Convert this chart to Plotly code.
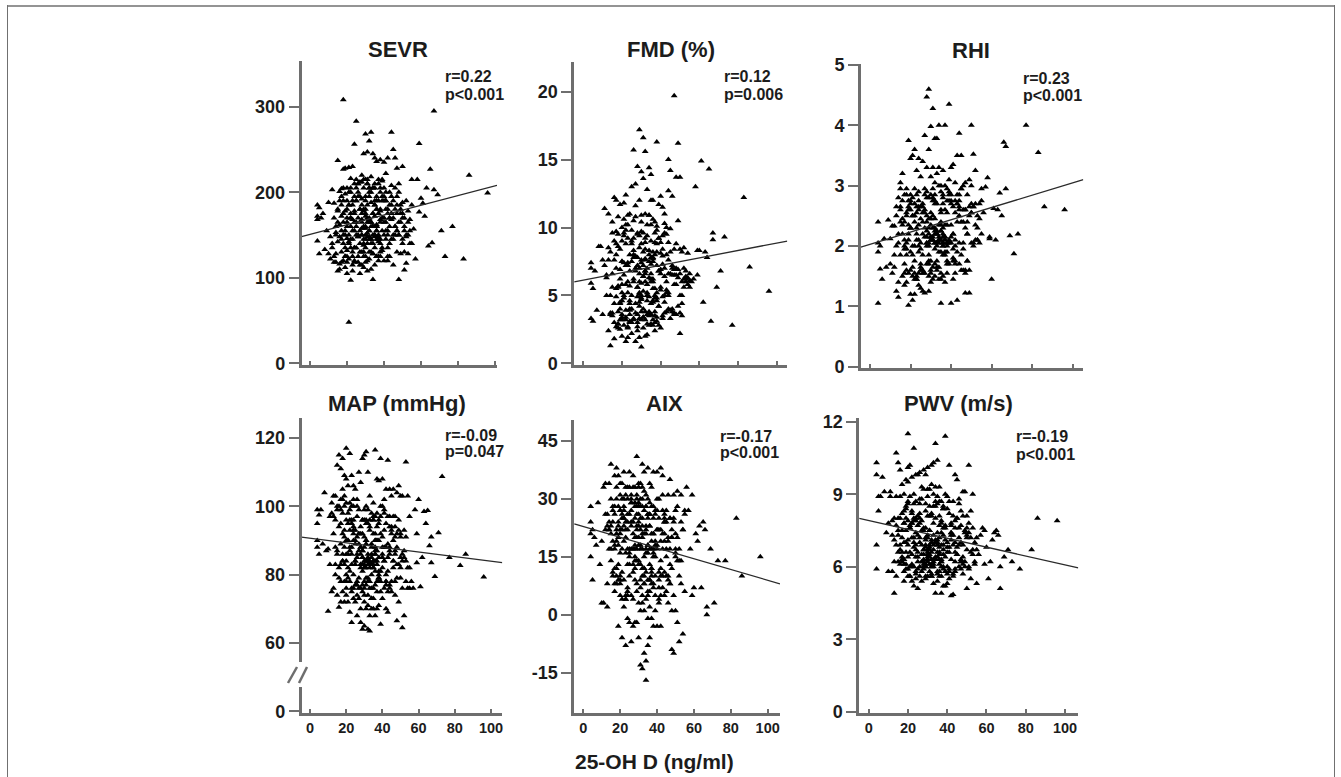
import plotly.graph_objects as go

W, H = 1341, 777

vitd = [
 4,4,4,4,5,5,6,7,8,9,10,10,
 11,11,12,12,13,13,13,14,14,14,15,15,15,15,16,16,16,16,
 17,17,17,17,18,18,18,18,18,19,19,19,19,19,20,20,20,20,20,20,
 21,21,21,21,21,22,22,22,22,22,23,23,23,23,23,24,24,24,24,24,
 25,25,25,25,25,26,26,26,26,26,27,27,27,27,27,28,28,28,28,28,
 29,29,29,29,29,29,30,30,30,30,30,30,31,31,31,31,31,31,32,32,
 32,32,32,32,33,33,33,33,33,33,34,34,34,34,34,34,35,35,35,35,
 35,35,36,36,36,36,36,37,37,37,37,37,38,38,38,38,38,39,39,39,
 39,39,40,40,40,40,41,41,41,41,42,42,42,42,43,43,43,43,44,44,
 44,44,45,45,45,46,46,46,47,47,47,48,48,48,49,49,49,50,50,50,
 51,51,51,52,52,52,53,53,54,54,55,55,
 56,57,58,59,59,60,61,62,63,64,65,66,67,67,69,71,73,77,83,86,96,
 19,20,21,22,23,24,25,26,27,28,29,30,31,32,33,34,35,36,37,38,
 28,29,30,31,32,33,34,35,36,37,28,29,30,31,32,33,34,35,36,37,
 18,20,22,24,26,28,30,32,34,36,38,40,42,44,46,24,28,32,36,40,
 15,17,19,21,23,25,27,29,31,33,35,37,39,41,43,45,47,22,30,38,
 12,14,16,18,20,22,24,26,28,30,32,34,36,38,40,42,44,46,48,50,
 13,15,17,19,21,23,25,27,29,31,33,35,37,39,41,43,45,47,49,51,
 16,18,20,22,24,26,28,30,32,34,36,38,40,42,44,46,48,50,52,54,
 17,19,21,23,25,27,29,31,33,35,37,39,41,43,45,47,49,51,53,55,
 14,17,20,23,26,29,32,35,38,41,44,47,50,53,18,24,30,36,42,48,
]

sevr = [
 185,172,168,143,182,128,170,175,133,155,188,128,
 148,122,140,203,187,125,170,118,160,153,108,142,178,237,162,201,116,148,
 204,130,172,118,308,227,165,140,190,228,112,155,198,125,165,146,205,105,180,132,
 48,229,150,122,185,97,216,160,135,175,230,108,145,190,168,256,210,118,155,178,
 283,215,135,160,190,118,200,148,170,125,212,105,155,180,140,220,130,165,192,150,
 245,205,158,138,112,178,268,215,150,175,125,195,247,210,140,165,108,185,205,148,
 170,122,260,195,270,218,145,165,110,188,245,205,150,128,175,98,240,210,135,160,
 190,148,236,195,160,125,145,215,175,150,120,190,205,238,165,140,178,213,155,132,
 195,170,235,190,150,120,222,180,145,165,240,175,155,135,185,200,125,160,270,208,
 168,145,250,190,115,240,205,160,228,185,130,210,150,98,185,165,128,188,230,170,
 109,155,170,117,190,148,178,128,168,155,215,140,
 157,122,215,257,177,193,187,172,205,137,227,141,295,203,197,155,125,160,122,220,199,
 150,160,142,170,155,135,165,148,180,158,145,172,152,165,140,175,150,160,145,168,
 150,160,145,170,155,165,140,150,162,148,175,140,158,148,168,145,160,172,155,142,
 150,170,145,175,150,168,135,155,160,180,145,165,150,175,160,165,185,145,155,170,
 165,155,178,140,185,150,195,130,210,160,205,145,190,155,170,150,175,170,160,180,
 135,128,190,205,118,205,135,195,212,118,205,128,190,130,205,125,195,180,150,145,
 118,180,145,125,200,130,205,115,180,215,130,185,125,215,200,140,170,155,180,130,
 110,175,125,200,120,210,115,190,130,205,180,125,195,120,185,150,200,175,150,140,
 195,135,185,125,190,130,215,120,200,115,210,135,190,170,145,195,175,160,165,185,
 150,185,190,115,210,125,200,185,200,190,175,155,140,150,120,195,180,125,180,165,
]

fmd = [
 7.4,7.0,5.9,3.3,3.1,5.5,6.8,3.9,8.6,8.6,7.6,3.6,
 11.4,7.2,5.0,6.3,11.0,8.5,2.4,3.6,1.3,8.2,10.4,5.6,9.6,3.5,12.2,1.8,7.6,4.4,
 12.0,7.0,2.7,4.9,10.8,5.7,2.6,9.5,3.8,11.7,6.9,2.5,8.4,4.4,7.5,2.0,10.0,5.8,3.2,9.0,
 11.8,6.5,2.8,9.6,4.8,12.4,1.6,8.8,5.8,3.4,10.9,7.4,1.9,5.2,9.2,11.0,3.0,6.8,8.0,4.0,
 13.0,7.5,2.2,5.0,9.8,15.7,10.5,6.2,3.2,8.3,13.2,11.6,4.4,7.0,1.6,14.5,9.5,2.4,5.6,3.6,
 17.2,12.0,9.4,6.6,3.3,1.9,14.1,10.9,7.6,4.8,1.2,8.8,16.6,13.6,9.6,5.3,3.4,7.2,11.0,6.0,
 15.6,8.4,3.8,2.0,12.8,9.4,7.0,4.6,2.1,5.8,14.4,10.9,8.3,6.3,3.7,4.9,13.9,9.0,6.6,2.9,
 12.0,4.4,12.0,8.2,6.0,3.2,4.6,10.4,8.9,5.5,3.8,2.4,16.3,9.8,7.2,5.2,3.1,11.7,6.8,2.8,
 9.2,4.2,12.3,8.9,5.6,2.6,11.5,9.4,7.3,3.5,9.6,11.0,6.4,3.7,8.0,5.4,10.0,3.8,12.7,7.6,
 15.0,5.0,14.2,9.9,3.3,12.3,7.2,4.0,19.7,6.5,3.7,13.7,8.8,5.8,16.2,10.5,4.2,13.7,8.4,2.2,
 8.2,6.0,3.5,7.0,8.5,5.6,6.8,6.2,5.8,6.3,6.6,6.1,
 6.0,6.2,13.0,8.3,6.5,8.3,14.9,4.5,8.2,7.8,14.3,3.1,9.1,9.6,5.6,6.8,9.3,2.8,12.2,7.1,5.3,
 6.2,7.5,5.0,3.9,7.2,5.7,4.0,9.2,6.8,3.0,5.2,7.4,4.0,6.6,5.0,7.5,3.6,6.2,8.0,4.8,
 7.2,5.1,3.8,6.4,7.6,5.0,3.8,6.0,7.5,4.8,5.6,7.0,4.7,3.4,6.8,5.2,8.0,6.2,4.5,3.5,
 5.6,3.6,7.2,4.6,6.0,7.8,5.0,6.8,3.5,7.8,4.6,5.4,7.0,6.6,6.5,3.6,4.9,7.7,5.5,6.9,
 3.7,5.5,4.0,7.4,6.0,3.0,7.9,4.5,6.4,3.6,7.3,5.0,6.8,7.9,5.2,6.6,6.9,3.2,5.9,8.2,
 6.5,5.0,3.0,8.6,3.4,9.8,4.4,7.8,2.7,9.7,3.2,10.9,2.8,8.8,6.6,10.3,4.0,7.0,3.6,6.6,
 7.6,6.6,8.8,3.2,10.6,2.6,9.0,3.7,8.5,2.6,10.2,7.8,9.6,4.2,8.4,6.0,8.2,3.6,6.3,4.4,
 9.0,2.9,5.2,10.2,3.1,8.0,9.6,3.2,8.9,2.8,10.6,3.4,8.1,4.5,8.9,3.8,6.5,5.0,6.2,8.1,
 8.0,4.5,9.4,2.7,8.8,10.8,4.2,8.2,2.9,10.2,3.0,9.2,3.3,9.5,3.9,5.8,6.9,5.0,6.4,5.6,
 3.7,9.7,4.6,10.2,3.3,6.0,9.2,3.6,10.1,4.9,5.2,8.4,3.7,6.0,2.9,3.9,10.4,7.7,5.0,7.0,
]

rhi = [
 2.4,2.05,1.9,1.05,1.62,2.0,1.45,2.12,1.65,2.43,2.12,1.7,
 2.33,1.55,2.33,1.65,2.0,2.65,1.25,1.15,2.2,1.4,2.4,2.65,3.05,1.85,2.2,1.5,3.2,2.75,
 2.85,1.7,2.4,1.35,2.85,2.55,1.6,2.05,1.4,3.75,2.75,2.2,1.55,1.02,3.45,2.6,1.9,1.6,1.2,2.3,
 3.5,2.8,2.0,1.65,1.1,3.6,2.95,2.4,1.75,1.2,3.25,2.55,2.1,1.5,1.45,3.45,2.9,2.35,1.9,1.35,
 3.15,2.65,2.05,1.7,1.3,3.4,2.7,2.2,1.85,1.25,3.83,2.95,2.3,1.55,1.22,4.47,3.3,2.5,2.0,1.7,
 4.6,3.6,2.8,2.2,1.75,1.25,3.98,3.15,2.55,2.1,1.6,1.4,4.28,3.3,2.75,2.1,1.65,1.45,3.78,3.05,
 2.45,2.05,1.7,1.5,3.78,3.2,2.7,2.25,2.0,1.75,4.0,3.3,3.0,2.35,2.05,1.45,3.0,2.6,2.1,1.05,
 1.9,1.55,3.25,2.7,2.2,2.0,1.5,4.0,3.0,2.35,2.1,1.4,2.95,2.55,2.05,1.75,1.55,4.35,3.1,2.75,
 2.1,1.7,3.3,2.7,2.05,1.05,3.35,2.65,2.2,1.45,3.05,2.75,2.0,1.55,3.5,2.4,1.9,1.1,3.87,2.6,
 2.05,1.7,3.5,2.95,1.85,3.0,2.4,1.6,3.05,2.6,1.22,2.85,2.2,1.75,3.1,2.5,1.22,4.0,3.0,2.05,
 3.52,2.65,2.0,3.25,2.35,2.7,2.5,2.1,2.7,2.05,2.95,2.2,
 2.55,2.98,3.13,2.15,2.12,1.45,2.62,2.1,2.6,2.88,2.5,3.72,2.95,3.65,2.17,1.87,2.2,4.0,3.55,2.65,2.6,
 2.1,2.3,2.5,2.0,2.2,2.6,1.95,2.4,2.15,2.05,2.45,2.15,2.3,2.05,2.2,2.1,2.25,2.05,2.15,2.35,
 2.05,2.3,2.15,2.5,1.95,2.2,2.1,2.4,2.0,2.15,2.25,2.0,2.45,2.1,2.3,2.05,2.15,2.25,2.05,2.6,
 2.5,2.3,2.7,2.1,2.55,2.15,2.35,2.2,2.1,2.15,2.05,2.35,2.1,2.5,2.6,2.0,2.4,2.25,2.3,2.15,
 2.6,2.1,2.35,2.5,2.3,2.45,2.6,2.05,2.15,2.2,2.35,2.1,2.05,2.2,2.7,2.4,2.3,2.5,2.1,2.0,
 1.85,2.8,2.45,1.85,2.7,1.55,2.75,1.6,2.8,1.75,2.75,1.65,2.8,1.9,2.85,1.7,2.75,1.95,2.4,2.7,
 2.5,2.95,1.95,2.65,1.5,2.65,1.65,2.85,1.5,2.8,1.6,2.9,1.85,2.85,1.95,2.7,2.95,1.55,2.65,2.05,
 2.35,1.95,2.75,1.45,2.65,1.55,2.9,1.55,2.7,1.9,2.85,1.7,2.75,1.75,2.65,2.05,1.75,2.55,2.1,2.45,
 2.0,2.6,1.85,2.85,1.6,2.55,1.85,2.95,1.65,2.55,1.9,2.9,1.8,2.85,1.6,2.6,1.6,2.65,2.3,2.75,
 2.05,1.55,2.85,1.45,2.65,1.7,2.85,1.45,2.75,1.75,2.85,1.6,2.55,2.1,2.95,1.55,2.85,1.85,2.55,2.2,
]

map_mmhg = [
 99,95,90,88,97.5,86,99,89,104,87,87.5,69.3,
 97,83,75,101,76,103,92,80,96,103,74,112,87,99,115,79,70.5,94,
 111,89,102,72,114,105,84,75,98,109,93,78,72,100,117,101,108,86,74,96,
 106,95,82,72,90,115.5,101,88,69,78,109,96,83,75,66,106,92,80,73,100,
 105,90,77,84,72,102,97,86,74,68,99,89,79,73,110,107,94,83,70,66,
 114,92,81,75,64,87,115,99,88,78,72,65,116,100,90,84,77,70,110,95,
 85,78,71,64,103,93,84,78,68,63.5,98,89,83,80,73,70,101,92,84,76,
 70,82,116.5,97,87,77,68,108,94,83,75,70,107.5,95,85,79,71,114,92,65.5,
 81,75,108,91,86,73,102,93,84,76,105,95,80,70,113.5,89,81,69,105,94,
 88,77,103,92,75,105,90,82,97,86,74,66.5,104,83,106,96,72,103,91,82,
 103,76,64.5,93,85,68,113,91,82,103,76,97,
 78,76,99,92,83.5,102,76.5,85,98.5,95,98.8,88.5,91,83.5,79.5,92.3,108.7,85,82.7,86,79.3,
 88,84,90,81,86,94,83,91,87,82,85,83,89,84,82,88,83,86,90,81,
 83,85,82,90,84,83,86,82,88,84,88,83,84,82,86,83,85,84,81,87,
 84,90,87,93,85,88,82,84,83,86,90,85,88,86,84,90,86,83,84,82,
 86,83,91,86,95,89,92,87,95,94,96,90,97,88,85,93,87,93,91,96,
 98,88,82,102,78,99,76,100,76,96,79,73,92,78,88,78,87,97,88,79,
 97,100,78,103,79,100,84,92,77,96,76,96,78,100,84,97,78,91,83,86,
 100,92,76,96,102,78,92,74,99,76,90,79,100,77,97,84,79,92,87,76,
 95,83,98,76,93,76,96,79,96,73,98,78,98,75,94,78,93,84,84,82,
 83,99,80,88,77,96,74,97,80,99,76,94,85,78,86,96,76,90,78,92,
]

aix = [
 28,24,21,15,9,22,20,18,29,13,3,19,
 33,3,22,34,26,8,2,34,17,22,30,14,21,39,19,10,27,24,
 36,28,17,8,38,30,22,12,10,36,24,18,13,-3,34,27,21,8,16,5,
 34,25,17,11,-6,37,25,19,9,2,33,24,16,5,-8,30,22,13,7,-1,
 37,26,16,10,-2,31,23,17,5,-7,36,24,11,4,-3,33,25,20,9,-2,
 41,31,22,17,8,-2,34,28,20,13,3,-6,30,25,17,9,1,-13,39,28,
 20,12,3,-14,37,27,15,8,1,-10,31,22,11,-12,4,-17,38,26,18,5,
 -8,-1,34,23,13,2,-6,33,21,11,8,-1,37,25,16,7,-3,26,19,5,
 10,1,37,22,17,-3,30,25,9,3,38,22,12,-3,36,17,7,31,21,5,
 26,11,27,15,6,31,19,3,35,25,13,20,1,-9,31,25,-10,27,16,1,
 32,20,-2,-7,17,14,31,8,-5,22,27,26,
 33,27,17,31,5,7,21,19,23,7,24,22,0,2,17,3,14,14,25,10,15,
 23,27,22,25,20,26,17,29,21,15,28,18,22,30,12,17,25,23,17,21,
 28,20,29,13,25,12,21,26,17,10,18,30,23,28,17,10,23,18,9,12,
 21,22,27,17,24,29,26,21,28,26,17,22,19,24,20,24,17,23,26,18,
 23,18,20,26,22,15,17,23,18,21,16,19,18,22,27,24,25,23,28,8,
 26,22,11,33,9,28,6,30,14,24,10,16,6,15,27,5,24,10,22,15,
 23,17,26,9,30,4,33,13,26,7,32,9,28,15,4,10,17,8,24,14,
 28,19,10,30,5,29,12,33,5,28,9,21,30,14,25,9,12,17,10,22,
 12,28,4,31,13,33,6,34,8,30,12,27,7,21,10,17,5,28,24,6,
 24,6,31,4,27,14,33,6,28,11,19,8,21,14,8,33,14,29,10,20,
]

pwv = [
 10.3,9.8,6.9,5.9,8.9,8.3,8.9,9.7,9.1,7.4,7.8,5.8,
 9.1,8.9,7.3,5.8,7.1,4.9,6.2,8.9,10.7,5.6,8.0,10.3,7.5,6.6,10.0,8.0,6.1,6.9,
 9.4,8.2,7.2,6.2,9.0,8.3,7.0,6.3,5.4,9.6,8.0,7.5,6.6,5.9,11.5,10.1,9.5,7.9,6.9,5.9,
 10.2,8.9,7.6,6.6,5.6,9.7,8.2,7.2,6.1,5.4,10.9,9.0,8.0,6.8,5.2,9.8,8.7,7.4,6.4,5.7,
 9.8,8.1,7.3,6.6,5.1,9.9,8.2,7.0,6.0,5.6,9.3,7.9,6.9,6.2,5.4,10.0,9.2,7.5,6.5,5.9,
 9.8,8.6,7.6,6.8,6.0,5.5,10.1,8.9,7.3,6.6,6.2,5.6,9.2,8.5,7.5,6.9,6.1,5.8,10.2,9.4,
 8.1,7.0,6.3,5.6,10.3,9.0,7.8,6.7,6.0,5.3,11.1,9.3,8.0,7.1,6.4,4.9,10.4,8.9,7.4,6.6,
 5.8,5.4,9.3,8.1,7.2,6.3,5.6,8.7,7.9,6.9,6.2,4.9,8.4,7.6,6.7,5.9,5.2,11.4,9.0,7.7,
 6.4,5.2,8.9,7.0,6.0,5.3,10.2,8.2,6.8,5.8,7.8,7.1,6.3,4.8,8.1,6.9,5.6,4.85,9.8,7.9,
 6.6,5.8,9.6,8.0,6.5,8.8,7.2,6.0,8.3,7.0,6.3,9.1,8.1,5.7,9.1,7.5,6.0,8.1,6.7,5.1,
 10.2,7.8,5.9,8.3,7.2,5.5,9.0,6.5,7.0,6.1,7.2,5.3,
 6.5,7.3,7.6,6.1,7.5,6.8,5.5,6.2,7.1,7.4,7.5,7.3,6.0,5.1,6.4,6.7,6.2,5.9,6.7,8.0,7.9,
 7.0,6.4,7.6,6.0,7.2,6.7,6.2,7.8,6.5,6.0,7.1,6.4,6.8,6.0,7.3,6.3,6.9,6.1,7.4,6.5,
 6.1,6.9,6.3,7.5,6.6,6.1,7.0,6.4,6.8,6.2,6.7,6.1,7.2,6.5,6.0,6.9,6.3,7.1,6.6,6.0,
 7.8,7.1,6.5,7.9,7.2,6.3,6.7,6.1,7.0,6.5,7.3,6.6,7.4,7.0,6.9,6.9,6.7,7.1,6.3,6.8,
 7.3,6.6,6.1,7.7,7.0,6.4,7.5,6.0,6.7,6.2,7.0,6.3,7.1,6.6,7.3,6.8,6.2,7.8,6.5,6.9,
 7.9,6.9,8.9,5.8,8.7,7.8,5.5,8.6,7.6,9.2,5.7,8.5,5.8,8.4,5.7,7.7,6.2,8.6,6.9,7.6,
 8.0,6.2,7.5,8.5,5.6,7.9,5.9,8.8,5.6,8.1,6.3,8.6,5.6,7.6,5.9,8.7,6.5,7.7,6.2,7.4,
 6.7,7.8,5.6,8.3,5.8,8.8,6.2,8.1,5.6,8.7,7.7,6.0,8.4,7.4,5.9,7.6,6.1,7.2,6.6,6.2,
 6.3,8.4,6.0,8.6,7.7,5.8,8.3,6.4,8.5,6.9,7.8,5.8,8.7,5.7,8.0,6.2,7.4,6.0,7.6,6.7,
 7.7,6.4,8.6,6.0,8.0,7.2,8.2,5.7,8.5,5.5,7.6,5.9,7.3,6.7,6.1,8.0,6.3,8.7,7.3,6.4,
]

for s in (sevr, fmd, rhi, map_mmhg, aix, pwv):
    assert len(s) == len(vitd), (len(s), len(vitd))

x_ticks = [0, 20, 40, 60, 80, 100]
INK = "#1c1c1c"
AXIS = "#6e6e6e"
FONT = "Liberation Sans, Arial, sans-serif"

panels = [
    dict(title="SEVR", y=sevr, r="r=0.22", p="p<0.001", tv=[0,100,200,300], tt=["0","100","200","300"],
         box=(301.5,497,60.7,364.5), xa=(310,495), ya=(0,363.3,300,106.7), fit=(148,208),
         tpos=(398,50), spos=(443,77,94)),
    dict(title="FMD (%)", y=fmd, r="r=0.12", p="p=0.006", tv=[0,5,10,15,20], tt=["0","5","10","15","20"],
         box=(574.2,787.3,61.7,364.5), xa=(583.3,776.7), ya=(0,363.3,20,91.7), fit=(6,9),
         tpos=(671,50), spos=(722,77,94)),
    dict(title="RHI", y=rhi, r="r=0.23", p="p<0.001", tv=[0,1,2,3,4,5], tt=["0","1","2","3","4","5"],
         box=(860.8,1083.3,64,367.5), xa=(870,1072.7), ya=(0,366.7,5,65), fit=(1.98,3.1),
         tpos=(971,51), spos=(1021,78,95)),
    dict(title="MAP (mmHg)", y=map_mmhg, r="r=-0.09", p="p=0.047", tv=[40,60,80,100,120], tt=["0","60","80","100","120"],
         box=(301.5,502.3,418,712.5), xa=(310,491), ya=(60,643,120,438), fit=(91,83.5),
         tpos=(397,403), spos=(443,435,451)),
    dict(title="AIX", y=aix, r="r=-0.17", p="p<0.001", tv=[-15,0,15,30,45], tt=["-15","0","15","30","45"],
         box=(574.2,780,420,712.8), xa=(583.3,767.7), ya=(0,614.7,45,441), fit=(23.5,8),
         tpos=(664,403), spos=(718,436,452)),
    dict(title="PWV (m/s)", y=pwv, r="r=-0.19", p="p<0.001", tv=[0,3,6,9,12], tt=["0","3","6","9","12"],
         box=(859.2,1078.3,418,712.8), xa=(868.7,1065), ya=(0,711.7,12,421.7), fit=(8,5.95),
         tpos=(958,403), spos=(1014,437,454)),
]

fig = go.Figure()
annotations = []
layout = {}

for i, pn in enumerate(panels):
    n = i + 1
    L, R, T, B = pn["box"]
    x0px, x100px = pn["xa"]
    kx = (x100px - x0px) / 100
    xr = [(L - x0px) / kx, (R - x0px) / kx]
    v0, p0, v1, p1 = pn["ya"]
    ky = (p0 - p1) / (v1 - v0)
    yr = [v0 + (p0 - B) / ky, v0 + (p0 - T) / ky]
    xn, yn = f"x{n}", f"y{n}"
    fig.add_trace(go.Scatter(x=vitd, y=pn["y"], mode="markers", xaxis=xn, yaxis=yn, showlegend=False,
                             marker=dict(symbol="triangle-up", size=6, color="#000000", line=dict(width=0))))
    fig.add_trace(go.Scatter(x=xr, y=list(pn["fit"]), mode="lines", xaxis=xn, yaxis=yn, showlegend=False,
                             line=dict(color="#2a2a2a", width=1.3)))
    bottom_row = i >= 3
    layout[f"xaxis{n}"] = dict(domain=[L / W, R / W], range=xr, anchor=yn, tickmode="array", tickvals=x_ticks,
                               ticktext=[str(t) for t in x_ticks], showticklabels=bottom_row, ticks="inside", ticklen=4,
                               tickcolor=AXIS, tickwidth=1.5, showline=True, linecolor=AXIS, linewidth=2.5,
                               showgrid=False, zeroline=False, automargin=False,
                               tickfont=dict(family=FONT, size=14.5, color=INK, weight="bold"))
    layout[f"yaxis{n}"] = dict(domain=[1 - B / H, 1 - T / H], range=yr, anchor=xn, tickmode="array", tickvals=pn["tv"],
                               ticktext=pn["tt"], ticks="outside", ticklen=10, tickcolor=AXIS, tickwidth=1.5,
                               showline=True, linecolor=AXIS, linewidth=2.5, showgrid=False, zeroline=False, automargin=False,
                               tickfont=dict(family=FONT, size=18, color=INK, weight="bold"))
    annotations.append(dict(text=f"<b>{pn['title']}</b>", x=pn["tpos"][0] / W, y=1 - pn["tpos"][1] / H, xref="paper", yref="paper",
                            xanchor="center", yanchor="middle", showarrow=False,
                            font=dict(family=FONT, size=22, color=INK)))
    for txt, yp in ((pn["r"], pn["spos"][1]), (pn["p"], pn["spos"][2])):
        annotations.append(dict(text=f"<b>{txt}</b>", x=pn["spos"][0] / W, y=1 - yp / H, xref="paper", yref="paper",
                                xanchor="left", yanchor="middle", showarrow=False,
                                font=dict(family=FONT, size=16, color=INK)))

annotations.append(dict(text="<b>25-OH D (ng/ml)</b>", x=654 / W, y=1 - 761 / H, xref="paper", yref="paper",
                        xanchor="center", yanchor="middle", showarrow=False,
                        font=dict(family=FONT, size=21, color=INK)))


def px_rect(x0, y0, x1, y1, color):
    return dict(type="rect", xref="paper", yref="paper", x0=x0 / W, x1=x1 / W, y0=1 - y1 / H, y1=1 - y0 / H,
                fillcolor=color, line=dict(width=0), layer="above")


def px_line(x0, y0, x1, y1, color, width):
    return dict(type="line", xref="paper", yref="paper", x0=x0 / W, x1=x1 / W, y0=1 - y0 / H, y1=1 - y1 / H,
                line=dict(color=color, width=width), layer="above")


shapes = [
    px_rect(296, 662, 304, 687, "white"),
    px_line(288, 683, 297, 667, AXIS, 2.5),
    px_line(299, 683, 307, 667, AXIS, 2.5),
    px_line(7, 6, 1335, 6, "#949494", 2),
    px_line(7.5, 5, 7.5, 777, "#707070", 1),
    px_line(1334.5, 5, 1334.5, 777, "#707070", 1),
]

fig.update_layout(width=W, height=H, margin=dict(l=0, r=0, t=0, b=0), paper_bgcolor="white", plot_bgcolor="white",
                  annotations=annotations, shapes=shapes, **layout)

fig.write_html("out.html", config={"displayModeBar": False},
               post_script="document.body.style.margin='0';document.documentElement.style.overflow='hidden';")
